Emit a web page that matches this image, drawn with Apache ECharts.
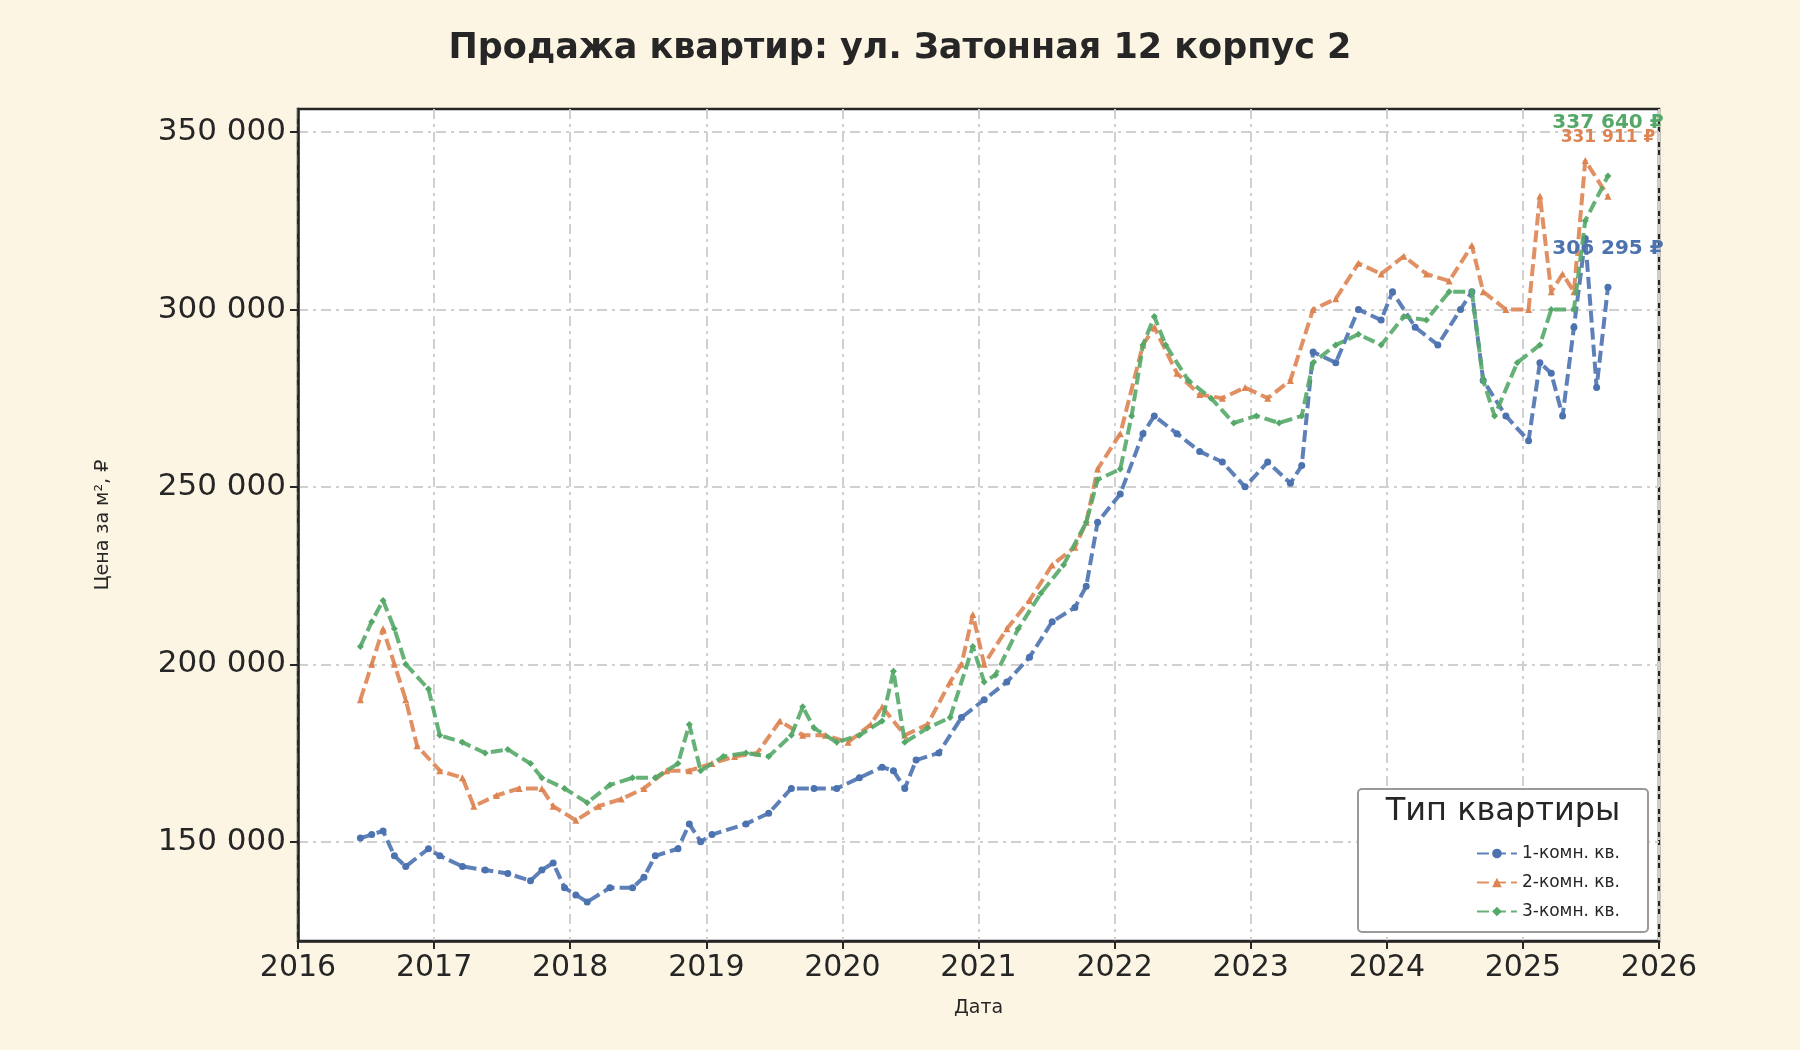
<!DOCTYPE html>
<html><head><meta charset="utf-8">
<script src="https://cdn.jsdelivr.net/npm/echarts@6/dist/echarts.min.js"></script>
<style>html,body{margin:0;background:#fcf5e3}#c{width:1800px;height:1050px}</style>
</head><body><div id="c"></div>
<script>
const seriesNames = ['1-комн. кв.', '2-комн. кв.', '3-комн. кв.'];
const colors = ['#4c72b0', '#dd8452', '#55a868'];
const yTicks = [150000, 200000, 250000, 300000, 350000];

const room1 = [
  ['2016-06',151000],['2016-07',152000],['2016-08',153000],['2016-09',146000],['2016-10',143000],['2016-12',148000],
  ['2017-01',146000],['2017-03',143000],['2017-05',142000],['2017-07',141000],['2017-09',139000],['2017-10',142000],
  ['2017-11',144000],['2017-12',137000],['2018-01',135000],['2018-02',133000],['2018-04',137000],['2018-06',137000],
  ['2018-07',140000],['2018-08',146000],['2018-10',148000],['2018-11',155000],['2018-12',150000],['2019-01',152000],
  ['2019-04',155000],['2019-06',158000],['2019-08',165000],['2019-10',165000],['2019-12',165000],['2020-02',168000],
  ['2020-04',171000],['2020-05',170000],['2020-06',165000],['2020-07',173000],['2020-09',175000],['2020-11',185000],
  ['2021-01',190000],['2021-03',195000],['2021-05',202000],['2021-07',212000],['2021-09',216000],['2021-10',222000],
  ['2021-11',240000],['2022-01',248000],['2022-03',265000],['2022-04',270000],['2022-06',265000],['2022-08',260000],
  ['2022-10',257000],['2022-12',250000],['2023-02',257000],['2023-04',251000],['2023-05',256000],['2023-06',288000],
  ['2023-08',285000],['2023-10',300000],['2023-12',297000],['2024-01',305000],['2024-03',295000],['2024-05',290000],
  ['2024-07',300000],['2024-08',305000],['2024-09',280000],['2024-11',270000],['2025-01',263000],['2025-02',285000],
  ['2025-03',282000],['2025-04',270000],['2025-05',295000],['2025-06',320000],['2025-07',278000],['2025-08',306295]
];
const room2 = [
  ['2016-06',190000],['2016-07',200000],['2016-08',210000],['2016-09',200000],['2016-10',190000],['2016-11',177000],
  ['2017-01',170000],['2017-03',168000],['2017-04',160000],['2017-06',163000],['2017-08',165000],['2017-10',165000],
  ['2017-11',160000],['2018-01',156000],['2018-03',160000],['2018-05',162000],['2018-07',165000],['2018-09',170000],
  ['2018-11',170000],['2019-01',172000],['2019-03',174000],['2019-05',175000],['2019-07',184000],['2019-09',180000],
  ['2019-11',180000],['2020-01',178000],['2020-03',183000],['2020-04',188000],['2020-06',180000],['2020-08',183000],
  ['2020-10',195000],['2020-11',200000],['2020-12',214000],['2021-01',200000],['2021-03',210000],['2021-05',218000],
  ['2021-07',228000],['2021-09',233000],['2021-10',240000],['2021-11',255000],['2022-01',265000],['2022-03',290000],
  ['2022-04',295000],['2022-06',282000],['2022-08',276000],['2022-10',275000],['2022-12',278000],['2023-02',275000],
  ['2023-04',280000],['2023-06',300000],['2023-08',303000],['2023-10',313000],['2023-12',310000],['2024-02',315000],
  ['2024-04',310000],['2024-06',308000],['2024-08',318000],['2024-09',305000],['2024-11',300000],['2025-01',300000],
  ['2025-02',332000],['2025-03',305000],['2025-04',310000],['2025-05',305000],['2025-06',342000],['2025-08',331911]
];
const room3 = [
  ['2016-06',205000],['2016-07',212000],['2016-08',218000],['2016-09',210000],['2016-10',200000],['2016-12',193000],
  ['2017-01',180000],['2017-03',178000],['2017-05',175000],['2017-07',176000],['2017-09',172000],['2017-10',168000],
  ['2017-12',165000],['2018-02',161000],['2018-04',166000],['2018-06',168000],['2018-08',168000],['2018-10',172000],
  ['2018-11',183000],['2018-12',170000],['2019-02',174000],['2019-04',175000],['2019-06',174000],['2019-08',180000],
  ['2019-09',188000],['2019-10',182000],['2019-12',178000],['2020-02',180000],['2020-04',184000],['2020-05',198000],
  ['2020-06',178000],['2020-08',182000],['2020-10',185000],['2020-12',205000],['2021-01',195000],['2021-02',197000],
  ['2021-04',210000],['2021-06',220000],['2021-08',228000],['2021-10',240000],['2021-11',252000],['2022-01',255000],
  ['2022-02',270000],['2022-03',290000],['2022-04',298000],['2022-05',290000],['2022-07',280000],['2022-09',275000],
  ['2022-11',268000],['2023-01',270000],['2023-03',268000],['2023-05',270000],['2023-06',285000],['2023-08',290000],
  ['2023-10',293000],['2023-12',290000],['2024-02',298000],['2024-04',297000],['2024-06',305000],['2024-08',305000],
  ['2024-09',280000],['2024-10',270000],['2024-12',285000],['2025-02',290000],['2025-03',300000],['2025-05',300000],
  ['2025-06',325000],['2025-08',337640]
];
const labelY = [317000, 348500, 352500];

function toYear(s) { const [y, m] = s.split('-').map(Number); return y + (m - 0.5) / 12; }
function fmt(v) { return String(Math.round(v)).replace(/\B(?=(\d{3})+(?!\d))/g, ' '); }

const all = [room1, room2, room3];
const symbols = ['circle', 'triangle', 'diamond'];
const chart = echarts.init(document.getElementById('c'));
chart.setOption({
  backgroundColor: '#fcf5e3',
  animation: false,
  title: { text: 'Продажа квартир: ул. Затонная 12 корпус 2', left: 'center', top: 26,
    textStyle: { fontFamily: 'DejaVu Sans', fontSize: 35, fontWeight: 'bold', color: '#262626' } },
  grid: { left: 298, right: 141, top: 109, bottom: 109, show: true, backgroundColor: '#fff', borderColor: '#262626', borderWidth: 2.5 },
  xAxis: {
    type: 'value', min: 2016, max: 2026, interval: 1,
    name: 'Дата', nameLocation: 'middle', nameGap: 58,
    nameTextStyle: { fontFamily: 'DejaVu Sans', fontSize: 19, color: '#262626' },
    axisLine: { lineStyle: { color: '#262626', width: 2.5 } },
    axisTick: { length: 8, lineStyle: { color: '#262626', width: 2 } },
    axisLabel: { fontFamily: 'DejaVu Sans', fontSize: 30, color: '#262626', margin: 12, formatter: v => String(v) },
    splitLine: { lineStyle: { color: '#d0d0d0', width: 2, type: [10, 5, 3, 5] } }
  },
  yAxis: {
    type: 'value', min: 122000, max: 356500,
    name: 'Цена за м², ₽', nameLocation: 'middle', nameGap: 185,
    nameTextStyle: { fontFamily: 'DejaVu Sans', fontSize: 19, color: '#262626' },
    axisLine: { lineStyle: { color: '#262626', width: 2.5 } },
    axisTick: { length: 8, customValues: yTicks, lineStyle: { color: '#262626', width: 2 } },
    axisLabel: { customValues: yTicks, fontFamily: 'DejaVu Sans', fontSize: 31, color: '#262626', margin: 12, formatter: fmt },
    splitLine: { lineStyle: { color: '#d0d0d0', width: 2, type: [10, 5, 3, 5] } }
  },
  legend: {
    orient: 'vertical', right: 175, top: 840, itemGap: 12, itemWidth: 40, itemHeight: 12, z: 30,
    textStyle: { fontFamily: 'DejaVu Sans', fontSize: 17, color: '#262626' },
    data: seriesNames
  },
  graphic: [
    { type: 'rect', shape: { x: 1358, y: 789, width: 290, height: 143, r: 4 }, style: { fill: '#fff', stroke: '#999', lineWidth: 2 }, z: 10 },
    { type: 'text', x: 1503, y: 812, style: { text: 'Тип квартиры', fontFamily: 'DejaVu Sans', fontSize: 32, fill: '#262626', align: 'center', verticalAlign: 'middle' }, z: 11 }
  ],
  series: all.map((d, i) => ({
    name: seriesNames[i], type: 'line', z: 3 + i,
    data: d.map(p => [toYear(p[0]), p[1]]),
    symbol: symbols[i], symbolSize: 7, showAllSymbol: true,
    itemStyle: { color: colors[i] },
    lineStyle: { color: colors[i], width: 4, type: [12, 5], opacity: 0.9 },
    markPoint: {
      symbol: 'circle', symbolSize: 0,
      data: [{ coord: [toYear(d[d.length - 1][0]), labelY[i]] }],
      label: { show: true, position: 'inside', formatter: fmt(d[d.length - 1][1]) + ' ₽',
        fontFamily: 'DejaVu Sans', fontWeight: 'bold', fontSize: i === 1 ? 17 : 20, color: colors[i] }
    }
  }))
});
</script></body></html>
